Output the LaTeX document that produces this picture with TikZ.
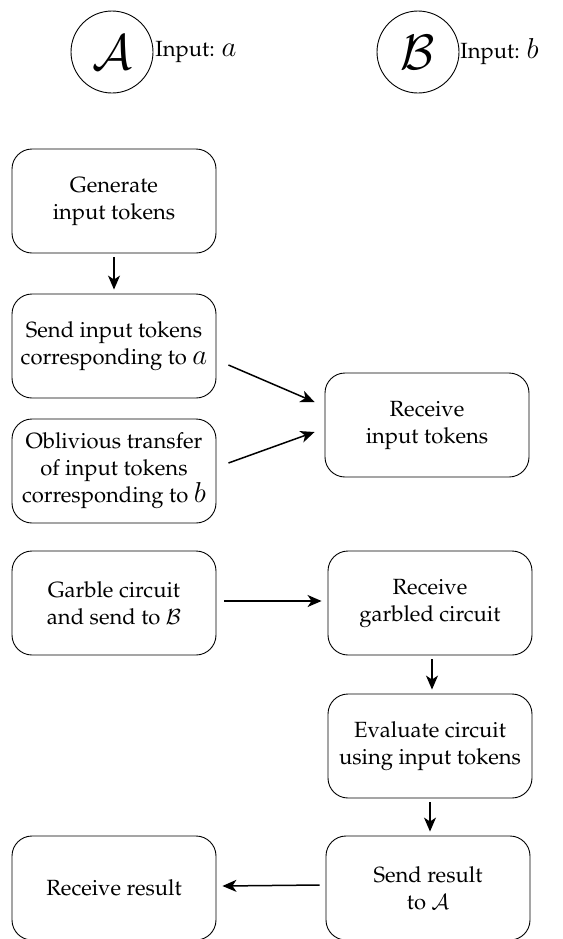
\documentclass[tikz,border=0pt]{standalone}
\usepackage[T1]{fontenc}
\renewcommand{\rmdefault}{ppl}
\usetikzlibrary{arrows.meta,calc}
\newcommand{\bigmath}[1]{{\fontsize{14.5}{14.5}\selectfont$#1$}}
\tikzset{
  box/.style={draw, rounded corners=10pt, line width=0.45pt, minimum width=102pt, minimum height=52pt, inner sep=0pt, align=center, font=\fontsize{11}{13.5}\selectfont},
  party/.style={draw, circle, line width=0.45pt, minimum size=41pt, inner sep=0pt, font=\fontsize{25}{28}\selectfont},
  lab/.style={anchor=west, inner sep=0pt, font=\fontsize{11}{13.5}\selectfont},
  arr/.style={-{Stealth[length=7pt,width=6pt,inset=2pt]}, line width=0.75pt},
}
\begin{document}
\begin{tikzpicture}[x=0.5pt,y=-0.5pt]
\useasboundingbox (0,0) rectangle (563,939);
\node[party] (A) at (112,52) {$\mathcal{A}$};
\node[lab] (la) at (155,52) {Input: \bigmath{a}};
\node[party] (B) at (418,52) {$\mathcal{B}$};
\node[lab] (lb) at (460,52) {Input: \bigmath{b}};

\node[box] (gen) at (114,201) {Generate\\input tokens};
\node[box] (send) at (114,346) {Send input tokens\\corresponding to \bigmath{a}};
\node[box] (ot) at (114,471) {Oblivious transfer\\of input tokens\\corresponding to \bigmath{b}};
\node[box] (recv) at (427,425) {Receive\\input tokens};
\node[box] (garb) at (114,603) {Garble circuit\\and send to $\mathcal{B}$};
\node[box] (rgc) at (430,603) {Receive\\garbled circuit};
\node[box] (eval) at (430,746) {Evaluate circuit\\using input tokens};
\node[box] (sres) at (428,888) {Send result\\to $\mathcal{A}$};
\node[box] (rres) at (114,888) {Receive result};

\draw[arr] ($(gen.south)+(0,4)$) -- ($(send.north)+(0,-4)$);
\draw[arr] ($(send.east)+(12,19)$) -- ($(recv.west)+(-10,-23)$);
\draw[arr] ($(ot.east)+(12,-8)$) -- ($(recv.west)+(-10,7)$);
\draw[arr] ($(garb.east)+(8,-2)$) -- ($(rgc.west)+(-6,-2)$);
\draw[arr] ($(rgc.south)+(2,4)$) -- ($(eval.north)+(2,-4)$);
\draw[arr] ($(eval.south)+(0,4)$) -- ($(sres.north)+(2,-4)$);
\draw[arr] ($(sres.west)+(-6,-3)$) -- ($(rres.east)+(6,-2)$);
\end{tikzpicture}
\end{document}
